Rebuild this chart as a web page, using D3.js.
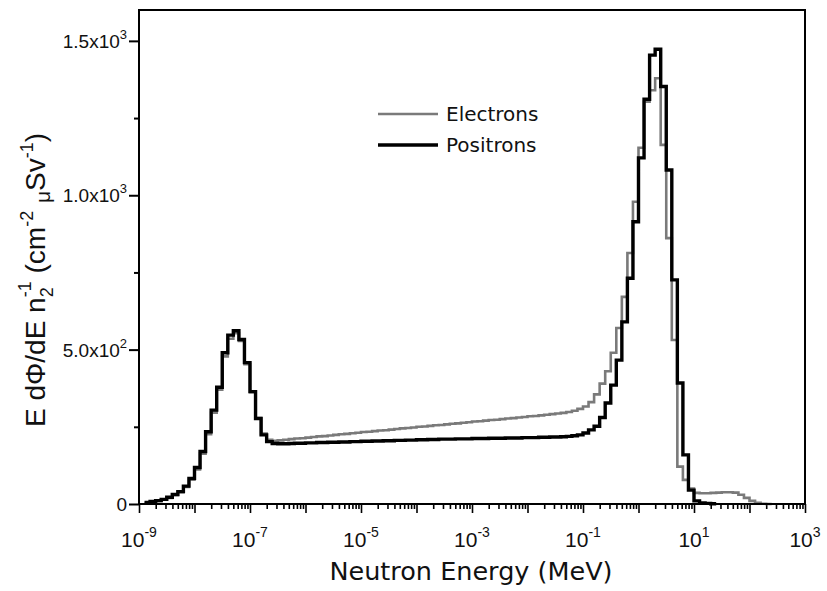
<!DOCTYPE html>
<html>
<head>
<meta charset="utf-8">
<script src="https://cdn.jsdelivr.net/npm/d3@7"></script>
<style>
  body { margin: 0; background: #fff; }
</style>
</head>
<body>
<div id="chart"></div>
<script>
// histogram bins: 10 per decade starting at 1e-9 MeV
const binStartExp = -9;
const binsPerDecade = 10;

const electrons = [
  0, 4, 7, 10, 14, 20, 29, 38, 55, 79,
  112, 163, 226, 296, 370, 478, 535, 553, 528, 453,
  362, 278, 228, 208, 205, 206, 208, 210, 212, 213,
  215, 217, 219, 220, 222, 224, 226, 227, 229, 231,
  233, 234, 236, 238, 239, 241, 243, 245, 246, 248,
  250, 251, 253, 255, 256, 258, 260, 261, 263, 265,
  267, 268, 270, 272, 273, 275, 277, 278, 280, 282,
  284, 285, 287, 289, 291, 293, 295, 298, 302, 308,
  316, 330, 355, 390, 430, 490, 570, 671, 813, 979,
  1154, 1303, 1340, 1379, 1163, 861, 531, 121, 78, 50,
  36, 35, 35, 36, 37, 38, 38, 37, 30, 20,
  10, 4, 1, 0, 0, 0, 0, 0, 0, 0
];

const positrons = [
  0, 5, 8, 11, 15, 22, 31, 40, 58, 83,
  118, 170, 234, 304, 378, 490, 547, 561, 533, 458,
  364, 277, 224, 202, 196, 195, 195, 196, 197, 197,
  198, 198, 199, 199, 200, 200, 201, 201, 202, 202,
  203, 203, 204, 204, 205, 205, 206, 206, 207, 207,
  208, 208, 209, 209, 210, 210, 210, 211, 211, 211,
  212, 212, 212, 213, 213, 213, 214, 214, 214, 215,
  215, 215, 216, 216, 217, 217, 218, 219, 221, 224,
  230, 240, 252, 280, 327, 385, 466, 590, 731, 914,
  1121, 1311, 1454, 1473, 1352, 1082, 726, 392, 159, 45,
  10, 3, 2, 1, 0, 0, 0, 0, 0, 0,
  0, 0, 0, 0, 0, 0, 0, 0, 0, 0
];

const xLabelExps = [-9, -7, -5, -3, -1, 1, 3];
const yTickValues = [0, 500, 1000, 1500];
const yTickMantissa = ["0", "5.0x10", "1.0x10", "1.5x10"];
const yTickExps = [null, "2", "3", "3"];
const yMinorTicks = [250, 750, 1250];

const width = 827;
const height = 591;
const plot = { left: 139, right: 805, top: 10, bottom: 504 };

const svg = d3.select("#chart")
  .append("svg")
  .attr("width", width)
  .attr("height", height)
  .style("background", "#fff");

const x = d3.scaleLog()
  .domain([1e-9, 1e3])
  .range([plot.left, plot.right]);

const y = d3.scaleLinear()
  .domain([0, 1600])
  .range([plot.bottom, plot.top]);

// ticks
const majorX = d3.range(-9, 4).map(e => Math.pow(10, e));
const minorX = [];
d3.range(-9, 3).forEach(e => {
  for (let m = 2; m <= 9; m++) minorX.push(m * Math.pow(10, e));
});

const xAxisG = svg.append("g")
  .attr("transform", `translate(0,${plot.bottom})`);
xAxisG.append("g")
  .call(d3.axisBottom(x).tickValues(minorX).tickSize(5).tickFormat(""));
xAxisG.append("g")
  .call(d3.axisBottom(x).tickValues(majorX).tickSize(9).tickFormat(""));
xAxisG.selectAll(".domain").remove();
xAxisG.selectAll("line")
  .attr("stroke", "#000")
  .attr("stroke-width", 1.6);

const yAxisG = svg.append("g")
  .attr("transform", `translate(${plot.left},0)`);
yAxisG.append("g")
  .call(d3.axisLeft(y).tickValues(yMinorTicks).tickSize(5).tickFormat(""));
yAxisG.append("g")
  .call(d3.axisLeft(y).tickValues(yTickValues).tickSize(10).tickFormat(""));
yAxisG.selectAll(".domain").remove();
yAxisG.selectAll("line")
  .attr("stroke", "#000")
  .attr("stroke-width", 2);

// tick labels
const tickFont = "'Liberation Sans', Arial, sans-serif";
const xLabels = svg.append("g")
  .attr("font-family", tickFont)
  .attr("font-size", 21)
  .attr("fill", "#111");
xLabelExps.forEach(e => {
  const t = xLabels.append("text")
    .attr("x", x(Math.pow(10, e)))
    .attr("y", 547)
    .attr("text-anchor", "middle");
  t.append("tspan").text("10");
  t.append("tspan")
    .attr("font-size", 14)
    .attr("dy", -10)
    .text(e);
});

const yLabels = svg.append("g")
  .attr("font-family", tickFont)
  .attr("font-size", 19)
  .attr("fill", "#111");
yTickValues.forEach((v, i) => {
  const t = yLabels.append("text")
    .attr("x", 127)
    .attr("y", y(v) + 7)
    .attr("text-anchor", "end");
  t.append("tspan").text(yTickMantissa[i]);
  if (yTickExps[i]) {
    t.append("tspan")
      .attr("font-size", 13)
      .attr("dy", -9)
      .text(yTickExps[i]);
  }
});

// histogram step lines
const stepPoints = (values, first, last) => {
  const pts = [];
  for (let i = first; i <= last; i++) {
    pts.push([Math.pow(10, binStartExp + i / binsPerDecade), values[i]]);
  }
  pts.push([Math.pow(10, binStartExp + (last + 1) / binsPerDecade), values[last]]);
  return pts;
};

const stepLine = d3.line()
  .x(d => x(d[0]))
  .y(d => y(d[1]))
  .curve(d3.curveStepAfter);

svg.append("path")
  .datum(stepPoints(electrons, 1, 113))
  .attr("d", stepLine)
  .attr("fill", "none")
  .attr("stroke", "#7a7a7a")
  .attr("stroke-width", 2.6);

svg.append("path")
  .datum(stepPoints(positrons, 1, 103))
  .attr("d", stepLine)
  .attr("fill", "none")
  .attr("stroke", "#000")
  .attr("stroke-width", 3.4);

// frame
svg.append("rect")
  .attr("x", plot.left)
  .attr("y", plot.top)
  .attr("width", plot.right - plot.left)
  .attr("height", plot.bottom - plot.top)
  .attr("fill", "none")
  .attr("stroke", "#000")
  .attr("stroke-width", 2);

// legend
const legendFont = "'DejaVu Sans', Verdana, sans-serif";
const legend = svg.append("g")
  .attr("font-family", legendFont)
  .attr("font-size", 20)
  .attr("fill", "#111");
[["Electrons", "#7a7a7a", 2.6, 114], ["Positrons", "#000", 3.4, 145]]
  .forEach(([name, color, w, ly]) => {
    legend.append("line")
      .attr("x1", 378).attr("x2", 438)
      .attr("y1", ly).attr("y2", ly)
      .attr("stroke", color)
      .attr("stroke-width", w);
    legend.append("text")
      .attr("x", 446)
      .attr("y", ly + 7)
      .text(name);
  });

// axis titles
svg.append("text")
  .attr("x", 471)
  .attr("y", 580)
  .attr("text-anchor", "middle")
  .attr("font-family", legendFont)
  .attr("font-size", 25.5)
  .attr("fill", "#111")
  .text("Neutron Energy (MeV)");

const yTitle = svg.append("text")
  .attr("transform", `translate(45,280) rotate(-90)`)
  .attr("text-anchor", "middle")
  .attr("font-family", tickFont)
  .attr("font-size", 28)
  .attr("fill", "#111");
yTitle.append("tspan").text("E dΦ/dE n");
yTitle.append("tspan").attr("font-size", 18).attr("dy", 8).text("2");
yTitle.append("tspan").attr("font-size", 18).attr("dx", -10).attr("dy", -22).text("-1");
yTitle.append("tspan").attr("dy", 14).text(" (cm");
yTitle.append("tspan").attr("font-size", 18).attr("dy", -12).text("-2");
yTitle.append("tspan").attr("dy", 12).text(" ");
yTitle.append("tspan").attr("font-size", 21).attr("dy", 5).text("μ");
yTitle.append("tspan").attr("dy", -5).text("Sv");
yTitle.append("tspan").attr("font-size", 18).attr("dy", -12).text("-1");
yTitle.append("tspan").attr("dy", 12).text(")");
</script>
</body>
</html>
